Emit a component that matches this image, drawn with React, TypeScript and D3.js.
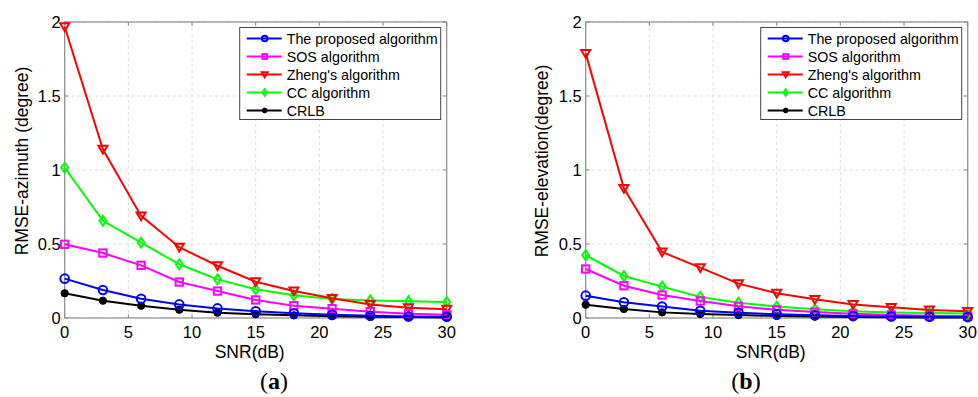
import * as d3 from 'd3';

const snr = [0, 3, 6, 9, 12, 15, 18, 21, 24, 27, 30];
const yTicks = [0, 0.5, 1, 1.5, 2];
const xTicks = [0, 5, 10, 15, 20, 25, 30];

const seriesNames = ['The proposed algorithm', 'SOS algorithm', "Zheng's algorithm", 'CC algorithm', 'CRLB'];
const seriesColors = ['#0000ff', '#ff00ff', '#ff0000', '#00ff00', '#000000'];
const seriesMarkers = ['circle', 'square', 'triangle', 'diamond', 'dot'];

// azimuth (a)
const azProposed = [0.266, 0.189, 0.13, 0.092, 0.065, 0.045, 0.032, 0.022, 0.015, 0.01, 0.008];
const azSOS = [0.498, 0.439, 0.356, 0.243, 0.182, 0.122, 0.083, 0.063, 0.043, 0.029, 0.022];
const azZheng = [1.968, 1.14, 0.69, 0.478, 0.353, 0.245, 0.182, 0.133, 0.092, 0.07, 0.059];
const azCC = [1.016, 0.657, 0.509, 0.363, 0.261, 0.194, 0.153, 0.128, 0.119, 0.113, 0.108];
const azCRLB = [0.167, 0.117, 0.083, 0.056, 0.036, 0.026, 0.018, 0.012, 0.008, 0.006, 0.004];

// elevation (b)
const elProposed = [0.151, 0.106, 0.077, 0.049, 0.035, 0.025, 0.018, 0.013, 0.01, 0.008, 0.006];
const elSOS = [0.331, 0.218, 0.155, 0.115, 0.079, 0.055, 0.04, 0.028, 0.02, 0.015, 0.012];
const elZheng = [1.788, 0.876, 0.446, 0.34, 0.232, 0.167, 0.126, 0.092, 0.072, 0.054, 0.045];
const elCC = [0.424, 0.284, 0.212, 0.142, 0.103, 0.077, 0.059, 0.045, 0.038, 0.034, 0.03];
const elCRLB = [0.09, 0.061, 0.038, 0.027, 0.02, 0.014, 0.01, 0.007, 0.005, 0.004, 0.003];

const FONT = 'Arial, "Liberation Sans", Helvetica, sans-serif';

function Marker({ type, x, y, color, r }: { type: string; x: number; y: number; color: string; r: number }) {
    const common = { fill: 'none', stroke: color, strokeWidth: 2 };
    if (type === 'circle') return <circle cx={x} cy={y} r={r} {...common} />;
    if (type === 'square') return <rect x={x - r * 0.85} y={y - r * 0.85} width={r * 1.7} height={r * 1.7} {...common} />;
    if (type === 'triangle')
        return <path d={`M${x - r * 1.05},${y - r * 0.8}L${x + r * 1.05},${y - r * 0.8}L${x},${y + r}Z`} {...common} />;
    if (type === 'diamond')
        return <path d={`M${x},${y - r * 1.15}L${x + r * 0.8},${y}L${x},${y + r * 1.15}L${x - r * 0.8},${y}Z`} {...common} />;
    return <circle cx={x} cy={y} r={r * 0.85} fill={color} stroke={color} strokeWidth={1} />;
}

function Panel({ left, series, yLabel, yLabelX, caption, captionX }: {
    left: number; series: number[][]; yLabel: string; yLabelX: number; caption: string; captionX: number;
}) {
    const top = 22;
    const bottom = 318;
    const right = left + 382;
    const x = d3.scaleLinear().domain([0, 30]).range([left, right]);
    const y = d3.scaleLinear().domain([0, 2]).range([bottom, top]);
    const line = d3.line<number>().x((_, i) => x(snr[i])).y(d => y(d));
    const axisColor = '#8c8c8c';

    const lx = right - 6 - 201;
    const ly = 27.5;

    return (
        <g>
            {xTicks.map(t => (
                <line key={'gx' + t} x1={x(t)} x2={x(t)} y1={top} y2={bottom} stroke="#dcdcdc" strokeDasharray="3,3" />
            ))}
            {yTicks.map(t => (
                <line key={'gy' + t} x1={left} x2={right} y1={y(t)} y2={y(t)} stroke="#dcdcdc" strokeDasharray="3,3" />
            ))}
            <rect x={left} y={top} width={right - left} height={bottom - top} fill="none" stroke={axisColor} strokeWidth={1.2} />
            {xTicks.map(t => (
                <g key={'tx' + t}>
                    <line x1={x(t)} x2={x(t)} y1={bottom} y2={bottom - 4} stroke={axisColor} />
                    <line x1={x(t)} x2={x(t)} y1={top} y2={top + 4} stroke={axisColor} />
                    <text x={x(t)} y={338} textAnchor="middle" fontSize={16.5} fontFamily={FONT}>{t}</text>
                </g>
            ))}
            {yTicks.map(t => (
                <g key={'ty' + t}>
                    <line x1={left} x2={left + 4} y1={y(t)} y2={y(t)} stroke={axisColor} />
                    <line x1={right} x2={right - 4} y1={y(t)} y2={y(t)} stroke={axisColor} />
                    <text x={left - 4} y={y(t)} dy="0.36em" textAnchor="end" fontSize={16.5} fontFamily={FONT}>{t}</text>
                </g>
            ))}
            {series.map((s, k) => (
                <g key={'s' + k}>
                    <path d={line(s) || ''} fill="none" stroke={seriesColors[k]} strokeWidth={2} />
                    {s.map((v, i) => (
                        <Marker key={i} type={seriesMarkers[k]} x={x(snr[i])} y={y(v)} color={seriesColors[k]} r={4.3} />
                    ))}
                </g>
            )).reverse()}
            <text x={(left + right) / 2 - 6} y={358} textAnchor="middle" fontSize={17.5} fontFamily={FONT}>SNR(dB)</text>
            <text transform={`translate(${yLabelX},${161}) rotate(-90)`} textAnchor="middle" fontSize={17.5}
                fontFamily={FONT} dy="0.35em">{yLabel}</text>
            <text x={captionX} y={389} textAnchor="middle" fontSize={24} fontFamily='"Liberation Serif", "DejaVu Serif", serif'>
                (<tspan fontWeight="bold">{caption}</tspan>)
            </text>
            <rect x={lx} y={ly} width={201} height={92} fill="#fff" stroke="#444" strokeWidth={1} />
            {seriesNames.map((n, k) => (
                <g key={'l' + k}>
                    <line x1={lx + 7} x2={lx + 42} y1={ly + 11 + 18 * k} y2={ly + 11 + 18 * k} stroke={seriesColors[k]} strokeWidth={2} />
                    <Marker type={seriesMarkers[k]} x={lx + 25} y={ly + 11 + 18 * k} color={seriesColors[k]} r={2.8} />
                    <text x={lx + 47} y={ly + 11 + 18 * k} dy="0.36em" fontSize={14.3} fontFamily={FONT}>{n}</text>
                </g>
            ))}
        </g>
    );
}

export default function App() {
    return (
        <svg width={978} height={397} style={{ position: 'absolute', left: 0, top: 0, background: '#fff' }}>
            <rect width={978} height={397} fill="#fff" />
            <Panel left={64.7} series={[azProposed, azSOS, azZheng, azCC, azCRLB]} yLabel="RMSE-azimuth (degree)"
                yLabelX={22} caption="a" captionX={274} />
            <Panel left={585.7} series={[elProposed, elSOS, elZheng, elCC, elCRLB]} yLabel="RMSE-elevation(degree)"
                yLabelX={542} caption="b" captionX={746} />
        </svg>
    );
}
